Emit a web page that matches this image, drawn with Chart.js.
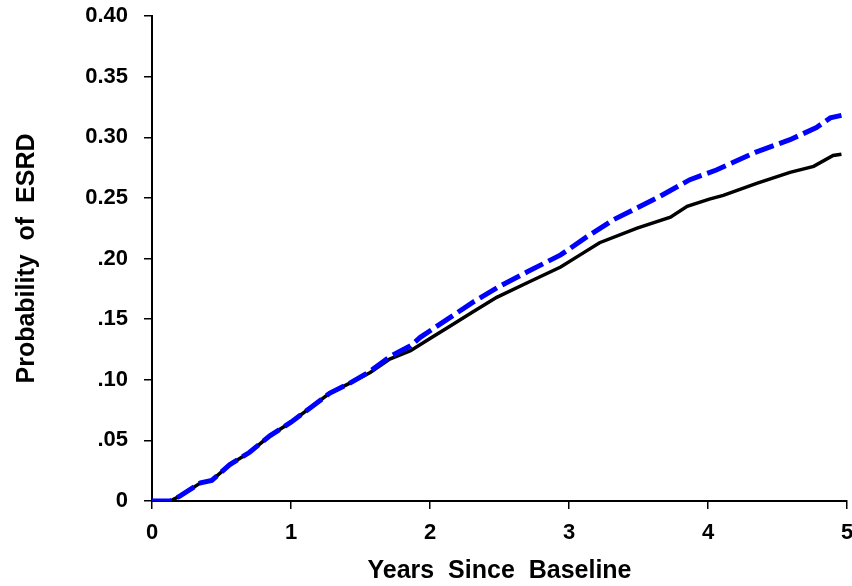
<!DOCTYPE html>
<html>
<head>
<meta charset="utf-8">
<script src="https://cdn.jsdelivr.net/npm/chart.js@4.4.1/dist/chart.umd.min.js"></script>
<style>
  html, body { margin: 0; padding: 0; background: #fff; }
  #chart { display: block; }
</style>
</head>
<body>
<canvas id="chart" width="852" height="586"></canvas>
<script>
const ctx = document.getElementById('chart');

const blackYears = [0, 0.13, 0.20, 0.35, 0.43, 0.56, 0.70, 0.85, 1.00, 1.14, 1.28, 1.42, 1.57, 1.71, 1.86, 2.00, 2.14, 2.31, 2.48, 2.70, 2.94, 3.08, 3.22, 3.49, 3.73, 3.85, 4.01, 4.11, 4.35, 4.59, 4.76, 4.90, 4.96];
const blackProb = [0, 0, 0.004, 0.015, 0.017, 0.030, 0.040, 0.054, 0.065, 0.077, 0.089, 0.097, 0.106, 0.117, 0.124, 0.134, 0.144, 0.156, 0.168, 0.180, 0.193, 0.203, 0.213, 0.225, 0.234, 0.243, 0.249, 0.252, 0.262, 0.271, 0.276, 0.285, 0.286];

const blueYears = [0, 0.13, 0.20, 0.35, 0.43, 0.56, 0.70, 0.85, 1.00, 1.14, 1.28, 1.42, 1.57, 1.71, 1.86, 1.93, 2.14, 2.31, 2.50, 2.70, 2.94, 3.13, 3.32, 3.65, 3.87, 4.06, 4.35, 4.59, 4.78, 4.88, 4.96];
const blueProb = [0, 0, 0.004, 0.015, 0.017, 0.030, 0.040, 0.054, 0.065, 0.077, 0.089, 0.097, 0.107, 0.119, 0.128, 0.135, 0.151, 0.164, 0.177, 0.189, 0.203, 0.218, 0.232, 0.251, 0.265, 0.273, 0.288, 0.298, 0.308, 0.316, 0.318];

const yTickLabels = ['0', '.05', '.10', '.15', '.20', '0.25', '0.30', '0.35', '0.40'];
const xTickLabels = ['0', '1', '2', '3', '4', '5'];

const fontFamily = '"Liberation Sans", Arial, Helvetica, sans-serif';
const toPoints = (xs, ys) => xs.map((x, i) => ({ x: x, y: ys[i] }));

new Chart(ctx, {
    type: 'line',
    data: {
        datasets: [
            {
                data: toPoints(blueYears, blueProb),
                borderColor: '#0000ff',
                borderWidth: 5,
                borderDash: [20, 6],
                pointRadius: 0,
                tension: 0,
                fill: false
            },
            {
                data: toPoints(blackYears, blackProb),
                borderColor: '#000000',
                borderWidth: 3.5,
                pointRadius: 0,
                tension: 0,
                fill: false
            }
        ]
    },
    options: {
        responsive: false,
        animation: false,
        layout: { padding: { left: 0, right: 5, top: 16, bottom: 0 } },
        plugins: {
            legend: { display: false },
            tooltip: { enabled: false }
        },
        scales: {
            x: {
                type: 'linear',
                min: 0,
                max: 5,
                // keep the plot edges where the reference has them
                afterFit: (s) => { s.height = 85; s.paddingLeft = 0; s.paddingRight = 0; },
                ticks: {
                    stepSize: 1,
                    padding: 11,
                    color: '#000',
                    maxRotation: 0,
                    font: { family: fontFamily, size: 22, weight: 'bold' },
                    callback: (v, i) => xTickLabels[i]
                },
                grid: { drawOnChartArea: false, drawTicks: true, tickLength: 8, color: '#000', lineWidth: 1.5 },
                border: { display: true, color: '#000', width: 2 },
                title: {
                    display: true,
                    text: 'Years  Since  Baseline',
                    color: '#000',
                    padding: { top: 0, bottom: 0 },
                    font: { family: fontFamily, size: 25, weight: 'bold' }
                }
            },
            y: {
                min: 0,
                max: 0.4,
                afterFit: (s) => { s.width = 152; s.paddingTop = 0; s.paddingBottom = 0; },
                ticks: {
                    stepSize: 0.05,
                    padding: 16,
                    color: '#000',
                    font: { family: fontFamily, size: 22, weight: 'bold' },
                    callback: (v, i) => yTickLabels[i]
                },
                grid: { drawOnChartArea: false, drawTicks: true, tickLength: 8, color: '#000', lineWidth: 1.5 },
                border: { display: true, color: '#000', width: 2 },
                title: {
                    display: true,
                    text: 'Probability  of  ESRD',
                    color: '#000',
                    padding: { top: 12, bottom: 0 },
                    font: { family: fontFamily, size: 25, weight: 'bold' }
                }
            }
        }
    }
});
</script>
</body>
</html>
